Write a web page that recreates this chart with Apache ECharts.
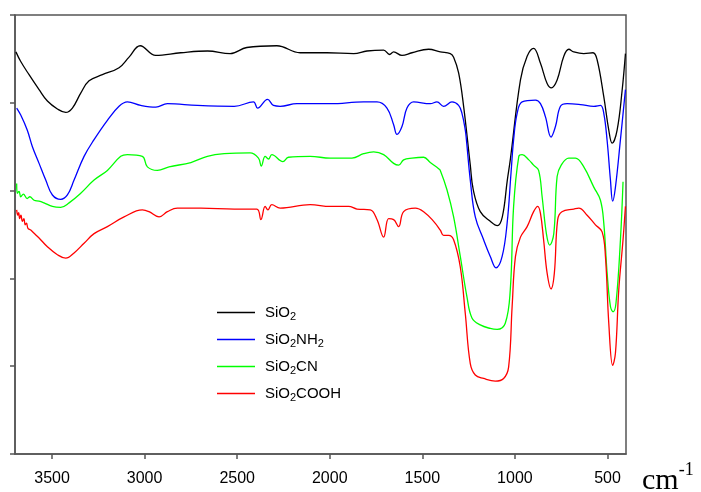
<!DOCTYPE html>
<html>
<head>
<meta charset="utf-8">
<script src="https://cdn.jsdelivr.net/npm/echarts@6/dist/echarts.min.js"></script>
<style>html,body{margin:0;padding:0;background:#fff}#c{width:701px;height:492px}</style>
</head>
<body>
<div id="c"></div>
<script>
const seriesNames = ['SiO2', 'SiO2NH2', 'SiO2CN', 'SiO2COOH'];
const xTicks = [500, 1000, 1500, 2000, 2500, 3000, 3500];
const xUnit = 'cm';
const xUnitExp = '-1';

const sio2 = [[3695,4.58],[3669,4.47],[3624,4.32],[3570,4.15],[3525,4.02],[3471,3.93],[3426,3.89],[3390,3.94],[3345,4.11],[3300,4.25],[3228,4.32],[3138,4.40],[3084,4.52],[3024,4.65],[2940,4.54],[2805,4.57],[2660,4.59],[2538,4.56],[2448,4.63],[2286,4.65],[2160,4.57],[2015,4.57],[1871,4.56],[1799,4.59],[1709,4.60],[1677,4.55],[1655,4.58],[1610,4.54],[1556,4.57],[1466,4.61],[1403,4.58],[1349,4.56],[1331,4.52],[1304,4.34],[1277,3.96],[1241,3.29],[1225,3.01],[1187,2.76],[1133,2.65],[1095,2.60],[1068,2.70],[1041,3.12],[1025,3.35],[970,4.26],[934,4.53],[899,4.62],[862,4.45],[826,4.22],[803,4.17],[772,4.26],[736,4.53],[709,4.61],[682,4.58],[628,4.56],[578,4.57],[556,4.49],[520,4.07],[493,3.69],[475,3.54],[448,3.69],[421,4.14],[403,4.56]];

const sio2nh2 = [[3691,3.94],[3669,3.86],[3634,3.69],[3606,3.50],[3570,3.31],[3534,3.12],[3498,2.95],[3453,2.90],[3417,2.95],[3381,3.12],[3327,3.39],[3273,3.58],[3201,3.80],[3138,3.96],[3093,4.01],[3021,3.97],[2939,3.95],[2877,3.99],[2715,3.97],[2516,3.96],[2412,4.01],[2390,3.94],[2336,4.04],[2304,3.97],[2268,3.96],[2177,3.99],[1997,3.99],[1817,4.01],[1745,4.01],[1691,3.94],[1655,3.75],[1637,3.64],[1610,3.73],[1583,3.94],[1547,4.01],[1457,3.99],[1421,4.01],[1385,3.96],[1340,4.01],[1304,3.97],[1286,3.88],[1268,3.69],[1262,3.58],[1241,3.12],[1214,2.70],[1169,2.44],[1133,2.25],[1102,2.12],[1069,2.25],[1042,2.63],[1021,3.20],[1007,3.58],[988,3.88],[961,4.01],[889,4.03],[862,3.99],[835,3.84],[805,3.61],[781,3.73],[754,3.96],[718,3.99],[646,3.98],[574,3.96],[538,3.97],[520,3.88],[502,3.57],[484,3.12],[472,2.88],[457,3.04],[430,3.58],[403,4.15]];

const sio2cn = [[3691,3.08],[3688,2.97],[3678,2.99],[3669,2.93],[3655,2.96],[3634,2.91],[3620,2.93],[3597,2.89],[3570,2.88],[3543,2.86],[3498,2.82],[3453,2.81],[3408,2.86],[3345,2.97],[3273,3.12],[3201,3.23],[3129,3.39],[3093,3.41],[3012,3.39],[2985,3.27],[2931,3.23],[2868,3.27],[2750,3.32],[2661,3.39],[2570,3.42],[2430,3.43],[2385,3.37],[2370,3.28],[2349,3.39],[2331,3.36],[2313,3.41],[2253,3.33],[2223,3.38],[2106,3.39],[1997,3.37],[1880,3.37],[1817,3.42],[1763,3.44],[1709,3.41],[1655,3.31],[1628,3.29],[1601,3.35],[1556,3.37],[1493,3.38],[1457,3.32],[1412,3.25],[1403,3.23],[1367,3.01],[1331,2.70],[1295,2.25],[1259,1.79],[1232,1.55],[1187,1.47],[1133,1.43],[1096,1.42],[1052,1.49],[1025,1.87],[1007,2.82],[979,3.39],[961,3.41],[925,3.35],[899,3.29],[872,3.23],[853,2.93],[830,2.51],[812,2.38],[790,2.51],[772,3.16],[750,3.29],[709,3.37],[673,3.37],[628,3.27],[574,3.04],[538,2.89],[520,2.63],[502,2.06],[484,1.68],[470,1.62],[454,1.72],[430,2.44],[416,3.10]];

const sio2cooh = [[3691,2.78],[3685,2.72],[3680,2.75],[3675,2.68],[3668,2.72],[3660,2.65],[3652,2.68],[3645,2.61],[3638,2.63],[3630,2.57],[3615,2.55],[3600,2.52],[3570,2.46],[3525,2.36],[3471,2.27],[3426,2.23],[3381,2.29],[3327,2.40],[3273,2.51],[3201,2.59],[3111,2.70],[3012,2.78],[2976,2.76],[2922,2.70],[2877,2.76],[2823,2.80],[2696,2.80],[2516,2.79],[2394,2.79],[2372,2.67],[2349,2.82],[2334,2.78],[2313,2.84],[2268,2.80],[2106,2.84],[1997,2.82],[1898,2.82],[1853,2.79],[1781,2.78],[1745,2.67],[1709,2.47],[1682,2.68],[1655,2.67],[1628,2.59],[1601,2.76],[1538,2.80],[1493,2.76],[1439,2.65],[1403,2.55],[1385,2.49],[1358,2.49],[1331,2.44],[1295,2.13],[1268,1.60],[1241,1.03],[1214,0.90],[1169,0.86],[1106,0.83],[1061,0.86],[1034,0.99],[1015,1.68],[997,2.25],[970,2.47],[934,2.59],[899,2.76],[877,2.82],[862,2.74],[845,2.44],[826,2.06],[805,1.88],[787,2.06],[769,2.67],[746,2.76],[682,2.79],[655,2.80],[610,2.72],[565,2.61],[529,2.53],[511,2.25],[493,1.49],[472,1.01],[457,1.15],[439,1.87],[416,2.44],[403,2.82]];

const seriesData = [sio2, sio2nh2, sio2cn, sio2cooh];
const colors = ['#000000', '#0000ff', '#00ff00', '#ff0000'];

const chart = echarts.init(document.getElementById('c'), null, {renderer: 'canvas'});
const axisColor = '#555555';
const font = '"Liberation Sans", Arial, sans-serif';

function fmtName(n) {
  return n.replace(/(\D+)|(\d+)/g, function (m, a, d) {
    return a ? '{a|' + a + '}' : '{s|' + d + '}';
  });
}

chart.setOption({
  animation: false,
  backgroundColor: '#ffffff',
  grid: {left: 15, right: 75, top: 15, bottom: 38, show: true, borderColor: axisColor, borderWidth: 1.5, containLabel: false},
  xAxis: {
    type: 'value', inverse: true, min: 400, max: 3700,
    axisLine: {show: true, onZero: false, lineStyle: {color: axisColor, width: 1.5}},
    axisTick: {show: true, length: 5, inside: false, customValues: xTicks, lineStyle: {color: axisColor, width: 1.5}},
    axisLabel: {show: true, customValues: xTicks, margin: 17, color: '#000', fontSize: 16, fontFamily: font,
      formatter: function (v) { return String(v); }},
    splitLine: {show: false}
  },
  yAxis: {
    type: 'value', min: 0, max: 5, interval: 1,
    axisLine: {show: true, onZero: false, lineStyle: {color: axisColor, width: 1.5}},
    axisTick: {show: true, length: 5, inside: false, lineStyle: {color: axisColor, width: 1.5}},
    axisLabel: {show: false},
    splitLine: {show: false}
  },
  legend: {
    orient: 'vertical', left: 212, top: 298, itemWidth: 38, itemHeight: 1.5, itemGap: 8,
    icon: 'rect',
    data: seriesNames,
    formatter: fmtName,
    textStyle: {
      padding: [0, 0, 0, 5],
      rich: {
        a: {fontSize: 15, fontFamily: font, color: '#000', lineHeight: 18},
        s: {fontSize: 11, fontFamily: font, color: '#000', padding: [8, 0, 0, 0], lineHeight: 18}
      }
    }
  },
  graphic: [{
    type: 'text', left: 642, top: 461,
    style: {
      text: '{a|' + xUnit + '}{s|' + xUnitExp + '}',
      rich: {
        a: {fontSize: 30, fontFamily: '"Liberation Serif", "Times New Roman", serif', fill: '#000', padding: [10, 0, 0, 0]},
        s: {fontSize: 18, fontFamily: '"Liberation Serif", "Times New Roman", serif', fill: '#000', padding: [0, 0, 12, 0]}
      }
    }
  }],
  series: seriesData.map(function (d, i) {
    return {
      name: seriesNames[i], type: 'line', data: d, showSymbol: false, symbol: 'none',
      smooth: 0.4,
      lineStyle: {color: colors[i], width: 1.3}, itemStyle: {color: colors[i]}
    };
  })
});
</script>
</body>
</html>
